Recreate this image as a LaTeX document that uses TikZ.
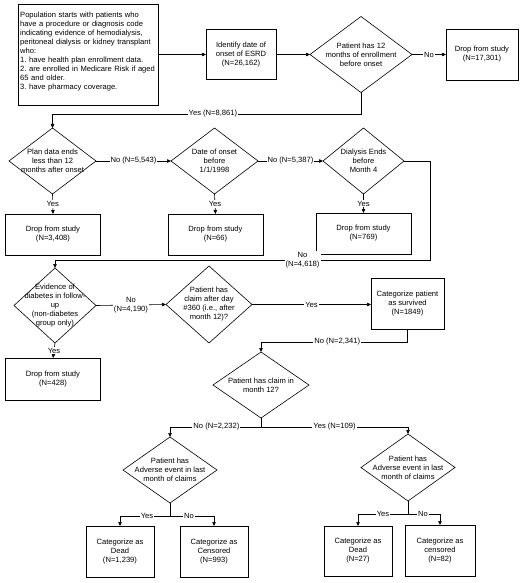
\documentclass[tikz,border=0pt]{standalone}
\usepackage{fontspec}
\setmainfont{Liberation Sans}
\frenchspacing
\usetikzlibrary{shapes.geometric,arrows.meta}
\begin{document}
\begin{tikzpicture}[x=1pt,y=-1pt,
  every node/.style={font=\fontsize{7.6}{9}\selectfont},
  box/.style={draw, line width=0.6pt, inner sep=0pt, outer sep=0pt, align=center},
  dia/.style={draw, diamond, line width=0.6pt, inner sep=0pt, outer sep=0pt},
  txt/.style={align=center, inner sep=0pt},
  lbl/.style={fill=white, inner sep=1pt, align=center},
  arr/.style={line width=0.6pt, -{Triangle[length=4pt,width=3.5pt]}},
  ln/.style={line width=0.6pt}]
\useasboundingbox[fill=white] (0,0) rectangle (520,583);

% top row
\node[box, minimum width=140, minimum height=101] (intro) at (88,54.5) {};
\node[anchor=north west, inner sep=0pt, align=left, text width=138] (introtxt) at (20,11.5)
 {Population starts with patients who\\have a procedure or diagnosis code\\indicating evidence of hemodialysis,\\peritoneal dialysis or kidney transplant\\who:\\1. have health plan enrollment data.\\2. are enrolled in Medicare Risk if aged\\65 and older.\\3. have pharmacy coverage.};
\node[box, minimum width=70, minimum height=50] (esrd) at (241,54.5) {Identify date of\\onset of ESRD\\(N=26,162)};
\node[dia, minimum width=102, minimum height=76] (d1) at (361,54.5) {};
\node[txt] (d1t) at (d1) {Patient has 12\\months of enrollment\\before onset};
\node[box, minimum width=72, minimum height=51] (drop1) at (482,54.5) {Drop from study\\(N=17,301)};

% second row
\node[dia, minimum width=87, minimum height=66] (d2) at (52.5,161) {};
\node[txt] (d2t) at (d2) {Plan data ends\\less than 12\\months after onset};
\node[dia, minimum width=87, minimum height=66] (d3) at (214.5,161) {};
\node[txt] (d3t) at (d3) {Date of onset\\before\\1/1/1998};
\node[dia, minimum width=81, minimum height=66] (d4) at (363.5,161) {};
\node[txt] (d4t) at (d4) {Dialysis Ends\\before\\Month 4};

\node[box, minimum width=95, minimum height=41] (dropA) at (53,234.5) {Drop from study\\(N=3,408)};
\node[box, minimum width=95, minimum height=41] (dropB) at (215.5,234.5) {Drop from study\\(N=66)};
\node[box, minimum width=95, minimum height=41] (dropC) at (363.5,233.5) {Drop from study\\(N=769)};

% third row
\node[dia, minimum width=82, minimum height=75] (d5) at (55,305.5) {};
\node[txt] (d5t) at (d5) {Evidence of\\diabetes in follow-\\up\\(non-diabetes\\group only)};
\node[dia, minimum width=86, minimum height=77] (d6) at (209,304.5) {};
\node[txt] (d6t) at (d6) {Patient has\\claim after day\\\#360 (i.e., after\\month 12)?};
\node[box, minimum width=73, minimum height=51] (surv) at (407.5,303.5) {Categorize patient\\as survived\\(N=1849)};
\node[box, minimum width=95, minimum height=42] (dropD) at (53,379) {Drop from study\\(N=428)};

% lower part
\node[dia, minimum width=96, minimum height=66] (d7) at (261,385) {};
\node[txt] (d7t) at (d7) {Patient has claim in\\month 12?};
\node[dia, minimum width=94, minimum height=66] (d8) at (170,470) {};
\node[txt] (d8t) at (d8) {Patient has\\Adverse event in last\\month of claims};
\node[dia, minimum width=94, minimum height=67] (d9) at (408,467.5) {};
\node[txt] (d9t) at (d9) {Patient has\\Adverse event in last\\month of claims};

\node[box, minimum width=68, minimum height=51] (boxE) at (120,551.5) {Categorize as\\Dead\\(N=1,239)};
\node[box, minimum width=68, minimum height=51] (boxF) at (214,551.5) {Categorize as\\Censored\\(N=993)};
\node[box, minimum width=68, minimum height=50] (boxG) at (358,551) {Categorize as\\Dead\\(N=27)};
\node[box, minimum width=70, minimum height=51] (boxH) at (440,550.5) {Categorize as\\censored\\(N=82)};

% connectors
\draw[arr] (intro.east |- esrd.west) -- (esrd.west);
\draw[arr] (esrd.east) -- (d1.west);
\draw[arr] (d1.east) -- node[lbl]{No} (drop1.west);
\draw[arr] (d1.south) -- (d1.south |- 0,114) -- node[lbl,pos=0.48]{Yes (N=8,861)} (d2.north |- 0,114) -- (d2.north);
\draw[arr] (d2.east) -- node[lbl]{No (N=5,543)} (d3.west);
\draw[arr] (d3.east) -- node[lbl]{No (N=5,387)} (d4.west);
\draw[arr] (d2.south) -- node[lbl]{Yes} (dropA.north);
\draw[arr] (d3.south) -- node[lbl]{Yes} (dropB.north);
\draw[arr] (d4.south) -- node[lbl]{Yes} (dropC.north);
\draw[arr] (d4.east) -- (430,161) -- (430,260) -- node[lbl,pos=0.34]{No\\(N=4,618)} (d5.north |- 0,260) -- (d5.north);
\draw[arr] (d5.east) -- node[lbl]{No\\(N=4,190)} (d6.west);
\draw[arr] (d6.east) -- node[lbl]{Yes} (surv.west |- d6.east);
\draw[arr] (d5.south) -- node[lbl]{Yes} (dropD.north);
\draw[arr] (surv.south) -- (surv.south |- 0,342) -- node[lbl,pos=0.48]{No (N=2,341)} (d7.north |- 0,342) -- (d7.north);
\draw[arr] (d7.south) -- (d7.south |- 0,427) -- node[lbl,pos=0.49]{No (N=2,232)} (d8.north |- 0,427) -- (d8.north);
\draw[arr] (d7.south |- 0,427) -- node[lbl,pos=0.5]{Yes (N=109)} (d9.north |- 0,427) -- (d9.north);
\draw[arr] (d8.south) -- (d8.south |- 0,516) -- node[lbl,pos=0.46]{Yes} (boxE.north |- 0,516) -- (boxE.north);
\draw[arr] (d8.south |- 0,516) -- node[lbl,pos=0.43]{No} (boxF.north |- 0,516) -- (boxF.north);
\draw[arr] (d9.south) -- (d9.south |- 0,514) -- node[lbl,pos=0.5]{Yes} (boxG.north |- 0,514) -- (boxG.north);
\draw[arr] (d9.south |- 0,514) -- node[lbl,pos=0.47]{No} (boxH.north |- 0,514) -- (boxH.north);
\end{tikzpicture}
\end{document}
